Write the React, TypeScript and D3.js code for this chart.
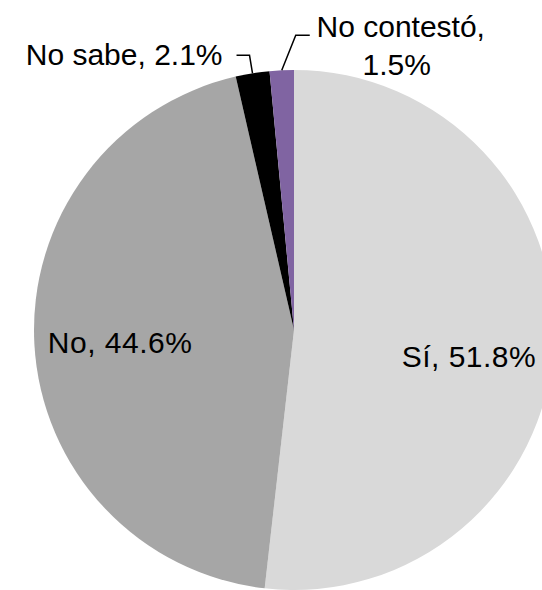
import React from "react";
import * as d3 from "d3";

const categories = ["Sí", "No", "No sabe", "No contestó"];
const values = [51.8, 44.6, 2.1, 1.5];
const colors = ["#d9d9d9", "#a6a6a6", "#000000", "#8064a2"];

const W = 542;
const H = 590;
const cx = 294;
const cy = 330;
const R = 260;

export default function App() {
  const pie = d3
    .pie<number>()
    .sort(null)
    .value((d) => d);
  const arcs = pie(values);
  const arcGen = d3.arc<d3.PieArcDatum<number>>().innerRadius(0).outerRadius(R);
  const labelArc = d3
    .arc<d3.PieArcDatum<number>>()
    .innerRadius(R * 0.67)
    .outerRadius(R * 0.67);
  const outer = d3.arc<d3.PieArcDatum<number>>().innerRadius(R).outerRadius(R);
  const fmt = (v: number) => `${v.toFixed(1)}%`;
  const font = "Liberation Sans, Arial, sans-serif";

  // inside labels for large slices
  const insideShift = [
    [1, 27],
    [0, 13],
  ];

  const [sbx, sby] = outer.centroid(arcs[2]);
  const [ncx, ncy] = outer.centroid(arcs[3]);

  return (
    <svg
      width={W}
      height={H}
      style={{ position: "fixed", left: 0, top: 0, background: "#fff" }}
    >
      <g transform={`translate(${cx},${cy})`}>
        {arcs.map((a, i) => (
          <path key={i} d={arcGen(a) || ""} fill={colors[i]} />
        ))}
        {arcs.slice(0, 2).map((a, i) => {
          const [x, y] = labelArc.centroid(a);
          return (
            <text
              key={"l" + i}
              x={x + insideShift[i][0]}
              y={y + insideShift[i][1]}
              textAnchor="middle"
              fontFamily={font}
              fontSize={30}
              fill="#000"
              letterSpacing={0.5}
            >
              {`${categories[i]}, ${fmt(values[i])}`}
            </text>
          );
        })}
        {/* No sabe leader */}
        <polyline
          points={`${sbx},${sby} ${sbx - 3},${sby - 18} ${sbx - 16},${sby - 18}`}
          fill="none"
          stroke="#000"
          strokeWidth={1.5}
        />
        <text
          x={sbx - 30}
          y={sby - 8}
          textAnchor="end"
          fontFamily={font}
          fontSize={30}
          fill="#000"
        >
          {`${categories[2]}, ${fmt(values[2])}`}
        </text>
        {/* No contestó leader */}
        <polyline
          points={`${ncx},${ncy} ${ncx + 14},${ncy - 35} ${ncx + 28},${ncy - 35}`}
          fill="none"
          stroke="#000"
          strokeWidth={1.5}
        />
        <text
          x={ncx + 118}
          y={ncy - 33}
          textAnchor="middle"
          fontFamily={font}
          fontSize={30}
          fill="#000"
        >
          <tspan x={ncx + 119} dy={0}>{`${categories[3]},`}</tspan>
          <tspan x={ncx + 115} dy={38}>{fmt(values[3])}</tspan>
        </text>
      </g>
    </svg>
  );
}
